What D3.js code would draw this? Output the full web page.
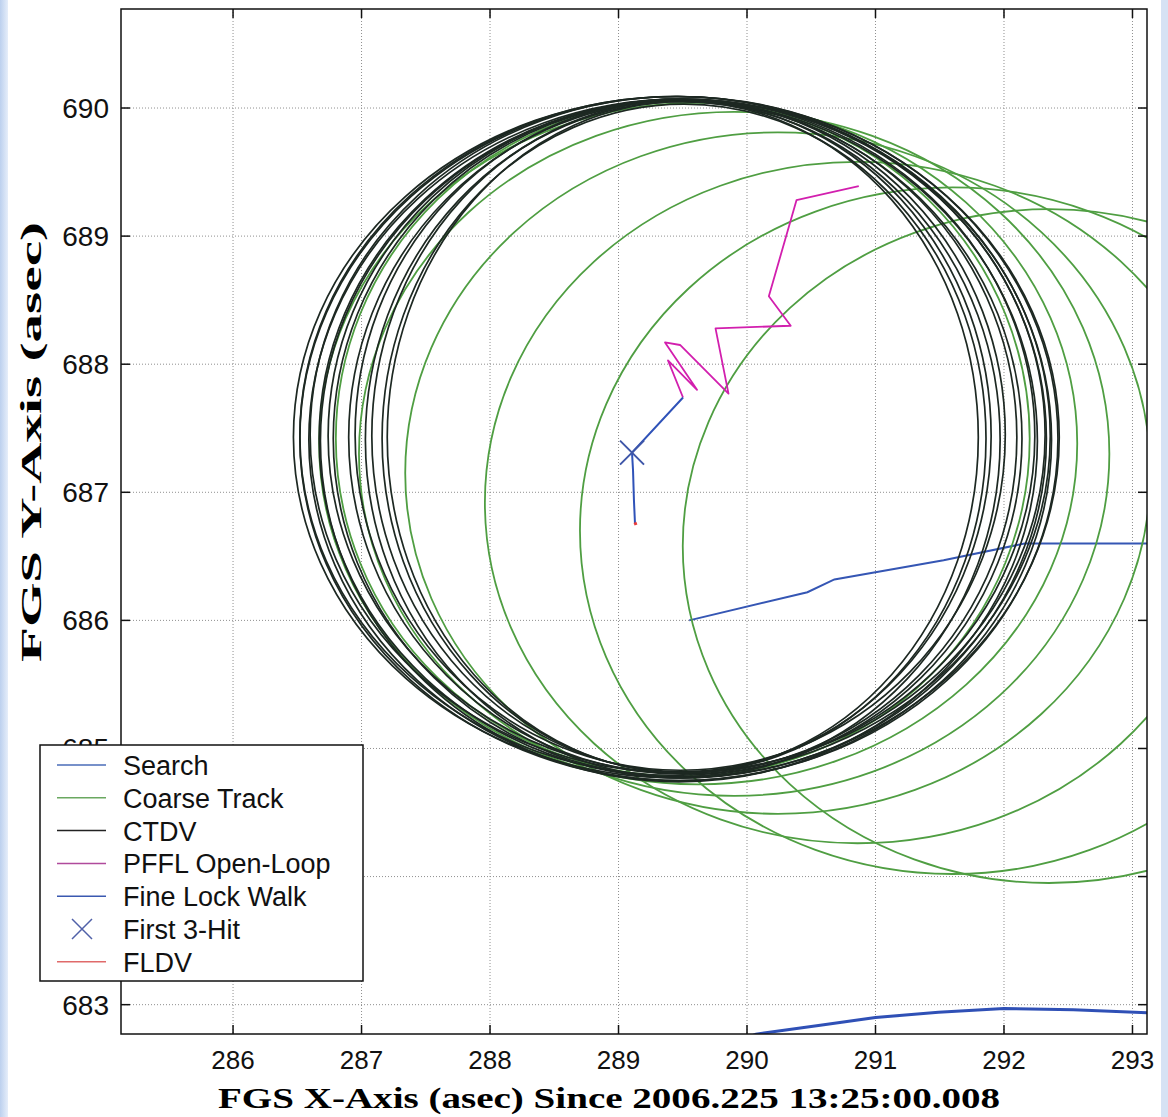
<!DOCTYPE html>
<html>
<head>
<meta charset="utf-8">
<script src="https://cdn.jsdelivr.net/npm/d3@7"></script>
<style>
  body { margin: 0; background: #fff; }
  svg { display: block; }
</style>
</head>
<body>
<script>
// axis ranges and ticks
var xDomain = [285.128, 293.113];
var yDomain = [682.771, 690.773];
var xTicks = [286, 287, 288, 289, 290, 291, 292, 293];
var yTicks = [683, 684, 685, 686, 687, 688, 689, 690];

// search legs (x, y)
var searchA = [[289.55, 686.0], [290.47, 686.22], [290.68, 686.32], [291.53, 686.47], [292.16, 686.6], [293.3, 686.6]];
var searchB = [[289.95, 682.72], [290.07, 682.77], [290.57, 682.84], [291.0, 682.9], [291.49, 682.94], [292.0, 682.97], [292.54, 682.96], [293.3, 682.93]];

// coarse track loops: cx, cy, rx, ry
var coarseLoops = [
  [292.35, 686.58, 2.85, 2.63],
  [291.6, 686.7, 2.9, 2.68],
  [290.86, 686.92, 2.9, 2.66],
  [290.24, 687.15, 2.9, 2.66],
  [289.9, 687.3, 2.92, 2.67],
  [289.62, 687.38, 2.95, 2.66],
  [289.5, 687.42, 2.7, 2.64]
];

// CTDV loops: cx, cy, rx, ry
var ctdvLoops = [
  [289.45, 687.43, 2.98, 2.66],
  [289.47, 687.42, 2.95, 2.67],
  [289.44, 687.44, 2.92, 2.65],
  [289.48, 687.41, 2.89, 2.66],
  [289.46, 687.45, 2.86, 2.64],
  [289.5, 687.42, 2.83, 2.65],
  [289.47, 687.4, 2.79, 2.66],
  [289.49, 687.44, 2.75, 2.63],
  [289.46, 687.42, 2.68, 2.64],
  [289.5, 687.43, 2.6, 2.63],
  [289.48, 687.45, 2.53, 2.62],
  [289.5, 687.41, 2.47, 2.64],
  [289.49, 687.44, 2.41, 2.62],
  [289.51, 687.42, 2.35, 2.61],
  [289.5, 687.43, 2.3, 2.62]
];

// PFFL open-loop path
var pffl = [[290.87, 689.39], [290.385, 689.28], [290.17, 688.53], [290.34, 688.30], [289.755, 688.28],
  [289.856, 687.77], [289.479, 688.15], [289.362, 688.17], [289.611, 687.80], [289.385, 688.03], [289.502, 687.74]];

// fine lock walk
var fineLock = [[289.502, 687.74], [289.105, 687.31], [289.113, 687.17], [289.12, 686.94], [289.128, 686.76]];
var firstHit = [289.105, 687.31];
var fldv = [[289.128, 686.765], [289.136, 686.745]];

var legendLabels = ["Search", "Coarse Track", "CTDV", "PFFL Open-Loop", "Fine Lock Walk", "First 3-Hit", "FLDV"];
var legendColors = ["#4a6cb8", "#6aa860", "#222", "#b04a9c", "#3a58b0", "#5060a8", "#e06a6a"];

var W = 1168, H = 1117;
var plot = {left: 121, right: 1147, top: 9, bottom: 1034};

var svg = d3.select("body").append("svg").attr("width", W).attr("height", H);

// light blue page edges
var grad = svg.append("defs").append("linearGradient").attr("id", "edge");
grad.append("stop").attr("offset", "0%").attr("stop-color", "#bcd0ee");
grad.append("stop").attr("offset", "100%").attr("stop-color", "#e6eefa");
svg.append("rect").attr("x", 0).attr("y", 0).attr("width", 8).attr("height", H).attr("fill", "url(#edge)");
svg.append("rect").attr("x", 1161).attr("y", 0).attr("width", 7).attr("height", H).attr("fill", "#d6e2f4");

var x = d3.scaleLinear().domain(xDomain).range([plot.left, plot.right]);
var y = d3.scaleLinear().domain(yDomain).range([plot.bottom, plot.top]);

svg.append("clipPath").attr("id", "clip").append("rect")
  .attr("x", plot.left).attr("y", plot.top)
  .attr("width", plot.right - plot.left).attr("height", plot.bottom - plot.top);

// grid
var grid = svg.append("g").attr("stroke", "#8f8f8f").attr("stroke-width", 1).attr("stroke-dasharray", "1,2");
grid.selectAll(".gx").data(xTicks).enter().append("line")
  .attr("x1", d => x(d)).attr("x2", d => x(d)).attr("y1", plot.top).attr("y2", plot.bottom);
grid.selectAll(".gy").data(yTicks).enter().append("line")
  .attr("y1", d => y(d)).attr("y2", d => y(d)).attr("x1", plot.left).attr("x2", plot.right);

var data = svg.append("g").attr("clip-path", "url(#clip)").attr("fill", "none");
var line = d3.line().x(d => x(d[0])).y(d => y(d[1]));

// search
data.append("path").attr("d", line(searchA)).attr("stroke", "#3556b4").attr("stroke-width", 2);
data.append("path").attr("d", line(searchB)).attr("stroke", "#2f50b6").attr("stroke-width", 3);

// coarse track
data.selectAll(".coarse").data(coarseLoops).enter().append("ellipse")
  .attr("cx", d => x(d[0])).attr("cy", d => y(d[1]))
  .attr("rx", d => x(d[0] + d[2]) - x(d[0]))
  .attr("ry", d => y(d[1]) - y(d[1] + d[3]))
  .attr("stroke", "#4f9e42").attr("stroke-width", 1.8);

// CTDV
data.selectAll(".ctdv").data(ctdvLoops).enter().append("ellipse")
  .attr("cx", d => x(d[0])).attr("cy", d => y(d[1]))
  .attr("rx", d => x(d[0] + d[2]) - x(d[0]))
  .attr("ry", d => y(d[1]) - y(d[1] + d[3]))
  .attr("stroke", "#1d2822").attr("stroke-width", 1.7);

// PFFL, fine lock, first hit, FLDV
data.append("path").attr("d", line(pffl)).attr("stroke", "#d21fae").attr("stroke-width", 1.8).attr("stroke-linejoin", "round");
data.append("path").attr("d", line(fineLock)).attr("stroke", "#2f52b8").attr("stroke-width", 2);
var hx = x(firstHit[0]), hy = y(firstHit[1]);
data.append("path").attr("d", `M${hx - 12},${hy - 12}L${hx + 12},${hy + 12}M${hx - 12},${hy + 12}L${hx + 12},${hy - 12}`)
  .attr("stroke", "#3e56a8").attr("stroke-width", 2);
data.append("path").attr("d", line(fldv)).attr("stroke", "#e83a3a").attr("stroke-width", 3);

// frame
svg.append("rect").attr("x", plot.left).attr("y", plot.top)
  .attr("width", plot.right - plot.left).attr("height", plot.bottom - plot.top)
  .attr("fill", "none").attr("stroke", "#111").attr("stroke-width", 1.5);

// ticks inward on all sides
var tk = svg.append("g").attr("stroke", "#111").attr("stroke-width", 1.5);
xTicks.forEach(function(t) {
  tk.append("line").attr("x1", x(t)).attr("x2", x(t)).attr("y1", plot.bottom).attr("y2", plot.bottom - 9);
  tk.append("line").attr("x1", x(t)).attr("x2", x(t)).attr("y1", plot.top).attr("y2", plot.top + 9);
});
yTicks.forEach(function(t) {
  tk.append("line").attr("y1", y(t)).attr("y2", y(t)).attr("x1", plot.left).attr("x2", plot.left + 9);
  tk.append("line").attr("y1", y(t)).attr("y2", y(t)).attr("x1", plot.right).attr("x2", plot.right - 9);
});

// tick labels
var lab = svg.append("g").attr("font-family", "Liberation Sans, Arial, sans-serif").attr("fill", "#111");
lab.selectAll(".xl").data(xTicks).enter().append("text")
  .attr("x", d => x(d)).attr("y", 1069).attr("text-anchor", "middle").attr("font-size", 26)
  .text(d => d);
lab.selectAll(".yl").data(yTicks).enter().append("text")
  .attr("x", 109).attr("y", d => y(d) + 10).attr("text-anchor", "end").attr("font-size", 28)
  .text(d => d);

// axis titles
svg.append("text").attr("x", 609).attr("y", 1108).attr("text-anchor", "middle")
  .attr("font-family", "Liberation Serif, Times New Roman, serif").attr("font-weight", "bold")
  .attr("font-size", 30).attr("textLength", 782).attr("lengthAdjust", "spacingAndGlyphs")
  .text("FGS X-Axis (asec) Since 2006.225 13:25:00.008");
svg.append("text").attr("transform", "translate(41,442) rotate(-90)").attr("text-anchor", "middle")
  .attr("font-family", "Liberation Serif, Times New Roman, serif").attr("font-weight", "bold")
  .attr("font-size", 30).attr("textLength", 440).attr("lengthAdjust", "spacingAndGlyphs")
  .text("FGS Y-Axis (asec)");

// legend
var lg = svg.append("g");
lg.append("rect").attr("x", 40).attr("y", 745).attr("width", 323).attr("height", 236)
  .attr("fill", "#fff").attr("stroke", "#111").attr("stroke-width", 1.5);
legendLabels.forEach(function(name, i) {
  var ly = 765 + i * 32.8;
  if (name == "First 3-Hit") {
    lg.append("path").attr("d", `M${72},${ly - 10}L${92},${ly + 10}M${72},${ly + 10}L${92},${ly - 10}`)
      .attr("stroke", legendColors[i]).attr("stroke-width", 1.5);
  } else {
    lg.append("line").attr("x1", 57).attr("x2", 106).attr("y1", ly).attr("y2", ly)
      .attr("stroke", legendColors[i]).attr("stroke-width", 1.5);
  }
  lg.append("text").attr("x", 123).attr("y", ly + 10).attr("font-size", 27)
    .attr("font-family", "Liberation Sans, Arial, sans-serif").attr("fill", "#111").text(name);
});
</script>
</body>
</html>
